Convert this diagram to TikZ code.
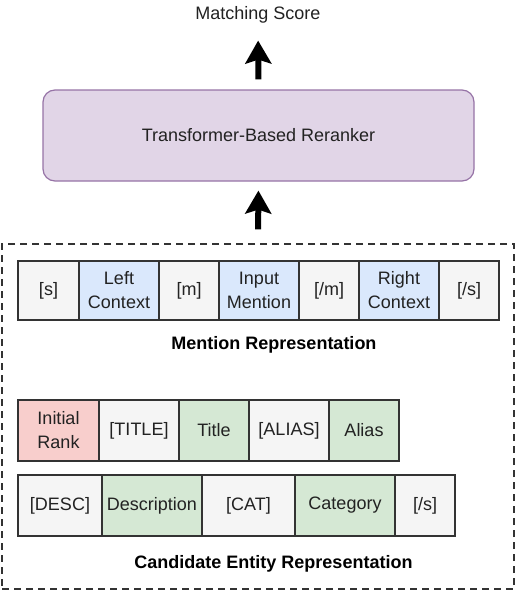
\documentclass[tikz,border=0pt]{standalone}
\usepackage{fontspec}
\setmainfont{Liberation Sans}
\usetikzlibrary{arrows.meta}
\definecolor{cgray}{HTML}{F5F5F5}
\definecolor{cblue}{HTML}{DAE8FC}
\definecolor{cgreen}{HTML}{D5E8D4}
\definecolor{cred}{HTML}{F8CECC}
\definecolor{cpurple}{HTML}{E1D5E7}
\definecolor{cpurpleb}{HTML}{9673A6}
\definecolor{cborder}{HTML}{333333}
\definecolor{ctext}{HTML}{222222}
\tikzset{
  cell/.style={draw=cborder, line width=1.2pt, inner sep=0pt, align=center, text=ctext,
    font=\fontsize{18}{24}\selectfont},
  gcell/.style={cell, fill=cgray},
  bcell/.style={cell, fill=cblue},
  grcell/.style={cell, fill=cgreen},
  rcell/.style={cell, fill=cred},
  lbl/.style={inner sep=0pt, font=\fontsize{18}{24}\selectfont},
  bold/.style={lbl, font=\fontsize{18}{24}\selectfont\bfseries},
  bigarrow/.style={line width=6pt, -{Stealth[length=23pt,width=26pt,inset=4pt]}}
}
\begin{document}
\begin{tikzpicture}[x=1pt,y=-1pt]
\useasboundingbox (0,0) rectangle (517,592);
% top
\node[lbl, text=ctext] (ms) at (258,15) {Matching Score};
\node[draw=cpurpleb, fill=cpurple, line width=1.2pt, rounded corners=12pt,
  minimum width=431pt, minimum height=91pt, lbl, text=ctext] (rer) at (258.5,135.5) {Transformer-Based Reranker};
% dashed container
\node[draw=cborder, line width=1.4pt, dash pattern=on 7pt off 5pt,
  minimum width=512pt, minimum height=345pt, inner sep=0pt] (box) at (258,416.5) {};
% arrows
\draw[bigarrow, shorten <=10pt, shorten >=17pt] (rer.north) -- (ms.south);
\draw[bigarrow, shorten <=14pt, shorten >=9pt] (box.north) -- (rer.south);
% mention row
\node[gcell, minimum width=61pt, minimum height=59pt] (s1) at (48.5,290.5) {[s]};
\node[bcell, minimum width=80pt, minimum height=59pt] (lc) at (119,290.5) {Left\\Context};
\node[gcell, minimum width=60pt, minimum height=59pt] (m1) at (189,290.5) {[m]};
\node[bcell, minimum width=80pt, minimum height=59pt] (im) at (259,290.5) {Input\\Mention};
\node[gcell, minimum width=60pt, minimum height=59pt] (m2) at (329,290.5) {[/m]};
\node[bcell, minimum width=80pt, minimum height=59pt] (rc) at (399,290.5) {Right\\Context};
\node[gcell, minimum width=60pt, minimum height=59pt] (s2) at (469,290.5) {[/s]};
\node[bold] (mr) at (274,345) {Mention Representation};
% candidate row 1
\node[rcell, minimum width=81pt, minimum height=61pt] (ir) at (58.5,430.5) {Initial\\Rank};
\node[gcell, minimum width=80pt, minimum height=61pt] (tt) at (139,430.5) {[TITLE]};
\node[grcell, minimum width=70pt, minimum height=61pt] (ti) at (214,430.5) {Title};
\node[gcell, minimum width=80pt, minimum height=61pt] (aa) at (289,430.5) {[ALIAS]};
\node[grcell, minimum width=70pt, minimum height=61pt] (al) at (364,430.5) {Alias};
% candidate row 2
\node[gcell, minimum width=84pt, minimum height=61pt] (dd) at (60,505.5) {[DESC]};
\node[grcell, minimum width=100pt, minimum height=61pt] (de) at (152,505.5) {Description};
\node[gcell, minimum width=93pt, minimum height=61pt] (cc) at (248.5,505.5) {[CAT]};
\node[grcell, minimum width=100pt, minimum height=61pt] (ca) at (345,505.5) {Category};
\node[gcell, minimum width=60pt, minimum height=61pt] (s3) at (425,505.5) {[/s]};
\node[bold] (cr) at (273.5,564) {Candidate Entity Representation};
\end{tikzpicture}
\end{document}
